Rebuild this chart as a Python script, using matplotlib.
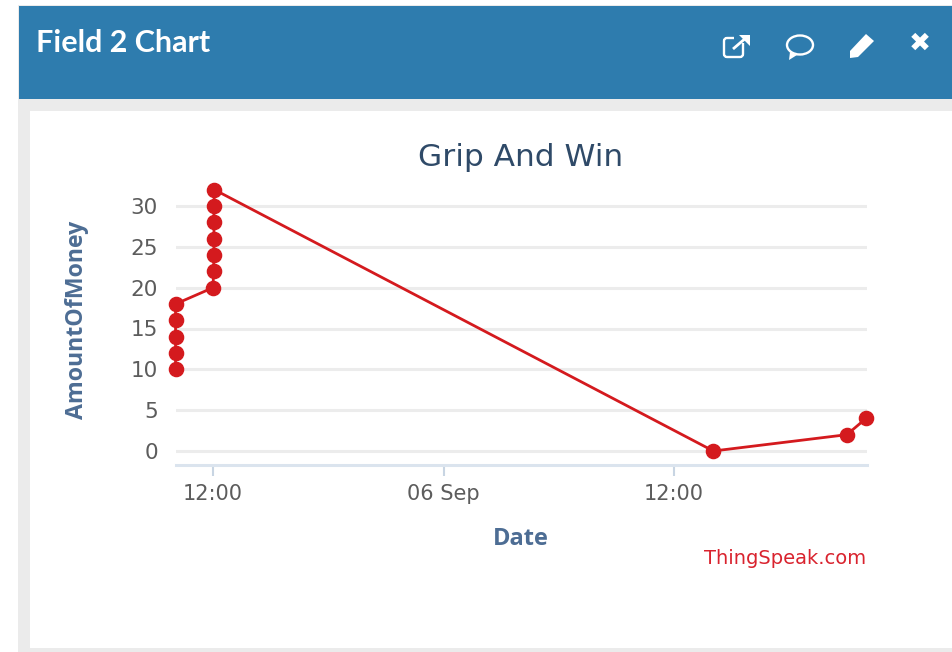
import matplotlib
matplotlib.use("Agg")
import matplotlib.pyplot as plt
from matplotlib.patches import Rectangle, Ellipse, Polygon, FancyBboxPatch

W, H = 953, 652

# data (hours since 00:00 on 05 Sep, value)
hours = [10.05, 10.05, 10.05, 10.05, 10.05, 12.0, 12.03, 12.05, 12.05, 12.05, 12.05, 12.07, 38.05, 45.0, 46.0]
values = [10, 12, 14, 16, 18, 20, 22, 24, 26, 28, 30, 32, 0, 2, 4]
tick_hours = [12, 24, 36]
tick_labels = ["12:00", "06 Sep", "12:00"]
y_ticks = [0, 5, 10, 15, 20, 25, 30]

fig = plt.figure(figsize=(W / 100, H / 100), dpi=100, facecolor="white")

# page furniture in pixel coordinates
bg = fig.add_axes([0, 0, 1, 1])
bg.set_xlim(0, W)
bg.set_ylim(H, 0)
bg.axis("off")
bg.add_patch(Rectangle((18, 5), W - 18, H - 5, fc="#ebebeb", ec="none"))
bg.add_patch(Rectangle((19, 6), W - 19, 93, fc="#2e7cae", ec="none"))
bg.add_patch(Rectangle((30, 111), W - 30, 537, fc="white", ec="none"))
bg.text(36, 43, "Field 2 Chart", color="white", fontsize=22, fontweight="bold",
        family="Lato", va="center", ha="left")

# header icons
icon = dict(fc="none", ec="white", lw=1.7)
bg.add_patch(FancyBboxPatch((724, 38), 19, 19, boxstyle="round,pad=0,rounding_size=3", **icon))
bg.add_patch(Rectangle((734, 32), 16, 11, fc="#2e7cae", ec="none"))
bg.plot([733, 747], [49, 37], color="white", lw=2, solid_capstyle="butt")
bg.add_patch(Polygon([[739, 35], [750, 35], [750, 46]], fc="white", ec="none"))
bg.add_patch(Ellipse((800, 45), 26, 19, **icon))
bg.add_patch(Polygon([[790, 52], [797, 55], [789, 60]], fc="white", ec="none"))
bg.add_patch(Polygon([[850, 51], [866, 34], [874, 41], [858, 57], [850, 58]], fc="white", ec="none"))
bg.text(920, 44, "\u2716", color="white", fontsize=19, family="DejaVu Sans", ha="center", va="center")

# chart axes: pixel box 176..867 x 190..465
left, right, top, bottom = 176, 867, 190, 465
ax = fig.add_axes([left / W, 1 - bottom / H, (right - left) / W, (bottom - top) / H])
ax.patch.set_alpha(0)
x_at = lambda px: 12 + (px - 213) * 12 / 230.5
y_at = lambda py: (451 - py) * 30 / 245
ax.set_xlim(x_at(left), x_at(right))
ax.set_ylim(y_at(bottom), y_at(top))
for s in ["top", "right", "left"]:
    ax.spines[s].set_visible(False)
ax.spines["bottom"].set_color("#dbe4ee")
ax.spines["bottom"].set_linewidth(2.2)
ax.grid(axis="y", color="#ececec", lw=2.2)
ax.set_axisbelow(True)
ax.set_yticks(y_ticks)
ax.set_xticks(tick_hours)
ax.set_xticklabels(tick_labels)
ax.tick_params(axis="y", length=0, labelsize=15.5, labelcolor="#5c5c5c", pad=13)
ax.tick_params(axis="x", length=8, width=1.5, color="#c8d5e3", labelsize=15, labelcolor="#5c5c5c", pad=5.5)
ax.plot(hours, values, color="#d41a1e", lw=2, marker="o", ms=10.2, mec="#d41a1e", clip_on=False, zorder=5)

fig.text(521 / W, 1 - 157 / H, "Grip And Win", color="#2f4a68", fontsize=22.5, ha="center", va="center")
fig.text(521 / W, 1 - 539 / H, "Date", color="#4d6d94", fontsize=17, fontweight="bold", ha="center", va="center",
         family="Open Sans")
fig.text(77 / W, 1 - 319.5 / H, "AmountOfMoney", color="#4d6d94", fontsize=16.7, fontweight="bold", rotation=90,
         ha="center", va="center", family="Open Sans")
fig.text(866 / W, 1 - 558 / H, "ThingSpeak.com", color="#d9232e", fontsize=14, ha="right", va="center")

fig.savefig("out.png", dpi=100)
